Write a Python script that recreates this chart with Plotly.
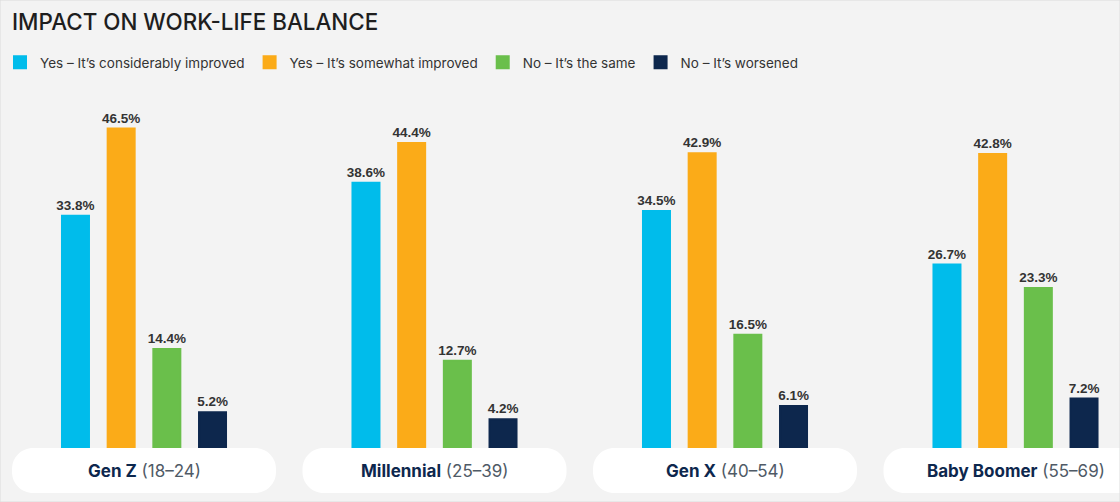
import plotly.graph_objects as go

# ---- data ----
generations = ["Gen Z", "Millennial", "Gen X", "Baby Boomer"]
age_ranges = ["18–24", "25–39", "40–54", "55–69"]
series_names = [
    "Yes – It’s considerably improved",
    "Yes – It’s somewhat improved",
    "No – It’s the same",
    "No – It’s worsened",
]
considerably_improved = [33.8, 38.6, 34.5, 26.7]
somewhat_improved = [46.5, 44.4, 42.9, 42.8]
the_same = [14.4, 12.7, 16.5, 23.3]
worsened = [5.2, 4.2, 6.1, 7.2]

series_values = [considerably_improved, somewhat_improved, the_same, worsened]
colors = ["#00bceb", "#fbab18", "#6abf4b", "#0d274d"]

W, H = 1120, 502
PX_PER_UNIT_X = 290.5
X0_PX = 144.0
BASE_PX = 448.0
PX_PER_PCT = 6.87

x_pos = list(range(len(generations)))

fig = go.Figure()
for name, vals, col in zip(series_names, series_values, colors):
    fig.add_trace(go.Bar(
        x=x_pos, y=vals, name=name,
        marker=dict(color=col, line=dict(width=2, color=col)),
        texttemplate="<b>%{y:.1f}%</b>",
        textposition="outside",
        constraintext="none",
        textfont=dict(family="Liberation Sans, Arial, sans-serif", size=13.5, color="#333333"),
        cliponaxis=False,
        hoverinfo="skip",
    ))

x_range = [-X0_PX / PX_PER_UNIT_X, (W - X0_PX) / PX_PER_UNIT_X]
y_range = [-(H - BASE_PX) / PX_PER_PCT, BASE_PX / PX_PER_PCT]

# pills behind category labels
pill_half_w = 132 / PX_PER_UNIT_X
pill_top = 0.0
pill_bot = -45 / PX_PER_PCT
rx = 21 / PX_PER_UNIT_X
ry = 21 / PX_PER_PCT
k = 0.5523

def pill_path(cx):
    xl, xr = cx - pill_half_w, cx + pill_half_w
    yt, yb = pill_top, pill_bot
    p = (f"M{xl+rx},{yt} L{xr-rx},{yt} "
         f"C{xr-rx+k*rx},{yt} {xr},{yt-ry+k*ry} {xr},{yt-ry} "
         f"L{xr},{yb+ry} "
         f"C{xr},{yb+ry-k*ry} {xr-rx+k*rx},{yb} {xr-rx},{yb} "
         f"L{xl+rx},{yb} "
         f"C{xl+rx-k*rx},{yb} {xl},{yb+ry-k*ry} {xl},{yb+ry} "
         f"L{xl},{yt-ry} "
         f"C{xl},{yt-ry+k*ry} {xl+rx-k*rx},{yt} {xl+rx},{yt} Z")
    return p

shapes = []
annotations = []
for i, (g, a) in enumerate(zip(generations, age_ranges)):
    shapes.append(dict(type="path", xref="x", yref="y", path=pill_path(i),
                       fillcolor="white", line=dict(width=0), layer="above"))
    annotations.append(dict(
        x=i, y=(pill_top + pill_bot) / 2, xref="x", yref="y",
        text=f"<b>{g}</b> <span style='color:#4f5a66'>({a})</span>",
        showarrow=False, xanchor="center", yanchor="middle",
        font=dict(family="Inter, Roboto, sans-serif", size=17, color="#0d274d"),
    ))

shapes.append(dict(type="rect", xref="paper", yref="paper", x0=0, x1=1, y0=0, y1=1,
                   line=dict(color="#dcdcdc", width=1), fillcolor="rgba(0,0,0,0)",
                   layer="above"))

fig.update_layout(
    width=W, height=H,
    margin=dict(l=0, r=0, t=0, b=0),
    paper_bgcolor="#f3f3f3", plot_bgcolor="#f3f3f3",
    barmode="group", bargap=0.371, bargroupgap=0.409,
    title=dict(text="IMPACT ON WORK-LIFE BALANCE", x=12 / W, xanchor="left",
               y=1 - 22 / H, yanchor="middle", xref="container", yref="container",
               font=dict(family="Inter, Roboto, sans-serif", size=22.4, weight=500,
                         color="#1e1e1e")),
    legend=dict(orientation="h", x=0, xanchor="left", y=1 - 47 / H, yanchor="top",
                font=dict(family="Inter, Roboto, sans-serif", size=13.5, color="#333333"),
                bgcolor="rgba(0,0,0,0)", traceorder="normal", itemclick=False),
    xaxis=dict(range=x_range, visible=False, fixedrange=True),
    yaxis=dict(range=y_range, visible=False, fixedrange=True),
    shapes=shapes, annotations=annotations,
    font=dict(family="Inter, Roboto, sans-serif"),
)

fig.write_html(
    "out.html",
    config={"displayModeBar": False},
    post_script="document.body.style.margin='0';document.body.style.overflow='hidden';",
)
